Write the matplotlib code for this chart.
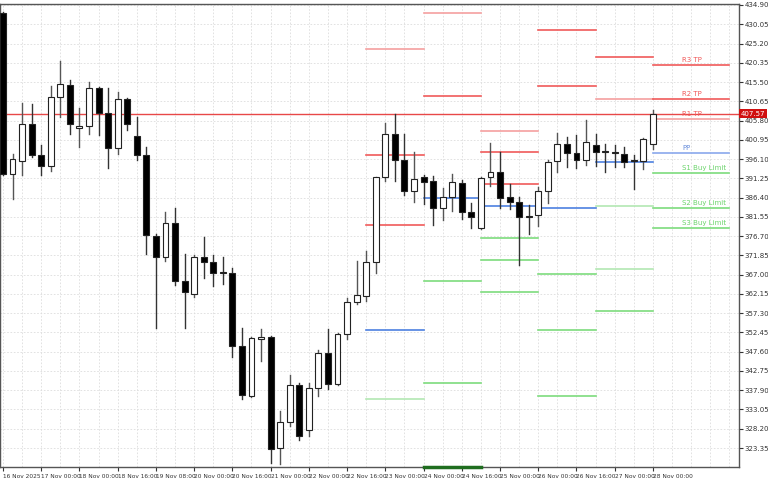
import matplotlib
matplotlib.use("Agg")
import matplotlib.pyplot as plt
import numpy as np
from matplotlib.patches import Rectangle

opens = [432.89,392.35,395.62,404.94,397.13,394.36,411.74,414.76,403.93,404.43,414.0,407.71,398.89,411.23,401.92,397.13,376.74,371.45,380.01,365.40,362.13,371.45,370.19,367.5,367.42,349.04,336.45,350.80,351.30,323.35,329.90,339.22,327.88,338.46,347.27,339.47,352.06,360.12,361.63,370.19,391.59,402.42,395.87,388.07,391.59,390.58,383.79,386.56,390.08,382.78,378.75,391.59,392.85,386.56,385.30,381.6,382.02,388.07,395.62,399.90,397.63,395.87,399.65,397.95,397.7,397.38,395.7,395.62,399.90]
highs = [433.2,397.38,410.22,409.97,399.65,414.51,420.80,416.02,408.97,415.51,414.25,414.0,412.99,411.48,406.70,399.15,377.24,382.78,383.79,372.20,371.95,376.48,371.95,371.45,368.68,353.57,351.30,353.32,351.5,332.67,341.74,339.72,339.72,348.03,353.32,352.31,361.12,370.44,372.96,391.7,405.19,407.45,402.42,397.89,392.09,391.84,388.82,392.35,390.84,385.05,391.59,400.15,397.89,389.83,386.56,384.54,389.07,395.87,402.67,401.66,402.17,405.94,402.42,399.90,399.65,399.15,397.13,401.3,408.46]
lows = [392.0,386.05,392.09,396.63,392.09,393.10,406.70,402.42,399.15,402.42,402.17,393.86,397.38,403.43,395.87,372.20,353.57,370.44,364.40,353.57,361.37,366.16,364.15,364.65,346.27,335.69,336.20,345.26,319.58,319.33,328.89,325.37,326.37,336.45,338.21,339.3,350.80,359.61,360.37,367.42,390.58,390.58,387.06,385.30,384.79,379.51,380.76,383.03,381.01,378.75,378.6,389.32,383.79,383.53,369.43,377.24,379.25,385.05,392.85,394.11,393.86,394.61,394.36,392.85,394.11,394.11,388.57,393.61,398.64]
closes = [392.35,396.12,404.94,397.13,394.36,411.74,415.01,404.94,404.43,414.0,407.71,398.89,411.23,404.94,397.13,376.99,371.45,380.01,365.40,362.63,371.45,370.19,367.42,367.42,349.04,336.70,351.05,351.30,323.10,329.90,339.22,326.37,338.46,347.27,339.47,352.06,360.12,361.88,370.19,391.59,402.42,395.87,388.07,391.09,390.33,383.79,386.56,390.33,382.78,381.52,391.34,392.85,386.30,385.30,381.52,381.4,388.07,395.37,399.90,397.63,395.87,400.40,397.89,397.8,397.55,395.37,395.55,401.16,407.57]

x_labels = ["16 Nov 2025","17 Nov 00:00","18 Nov 00:00","18 Nov 16:00","19 Nov 08:00","20 Nov 00:00","20 Nov 16:00","21 Nov 00:00","22 Nov 00:00","22 Nov 16:00","23 Nov 00:00","24 Nov 00:00","24 Nov 16:00","25 Nov 00:00","26 Nov 00:00","26 Nov 16:00","27 Nov 00:00","28 Nov 00:00"]

seg_starts = [38, 44, 50, 56, 62, 68]
seg_levels = [
    [423.82, 397.13, 379.51, 353.07, 335.69],
    [432.89, 411.99, 386.30, 365.40, 339.72],
    [403.17, 397.89, 389.83, 384.29, 376.23, 370.69, 362.63],
    [428.61, 414.51, 383.79, 367.17, 353.07, 336.45],
    [421.81, 411.23, 395.37, 384.29, 368.42, 357.85],
    [419.79, 411.23, 406.20, 397.63, 392.60, 383.79, 378.75],
]
seg_kinds = [
    ["lr", "r", "r", "b", "lg"],
    ["lr", "r", "b", "g", "g"],
    ["lr", "r", "r", "b", "g", "g", "g"],
    ["r", "r", "b", "g", "g", "g"],
    ["r", "lr", "b", "lg", "lg", "g"],
    ["r", "r", "lr", "lb", "g", "g", "g"],
]
last_labels = ["R3 TP", "R2 TP", "R1 TP", "PP", "S1 Buy Limit", "S2 Buy Limit", "S3 Buy Limit"]
current_price = 407.57

colors = {"r": "#f05a5a", "lr": "#f5a0a0", "b": "#4d80e0", "lb": "#8aa8ec", "g": "#7ddc7d", "lg": "#b3e8b3"}
label_colors = ["#f05a5a", "#f05a5a", "#f05a5a", "#6a8fdc", "#6cd46c", "#6cd46c", "#6cd46c"]

fig = plt.figure(figsize=(7.68, 4.8), dpi=100)
ax = fig.add_axes([0.0, 13/480, 739/768, 463/480])
ymin, ymax = 318.57, 435.15
ax.set_xlim(-0.31, 77.0)
ax.set_ylim(ymin, ymax)

yt = [434.90 - 4.85*i for i in range(24)]
ax.set_yticks(yt)
ax.set_yticklabels([f"{v:.2f}" for v in yt])
ax.yaxis.tick_right()
ax.tick_params(axis='y', labelsize=5, length=3, pad=1, colors='#333333')
ax.set_xticks(range(0, 69, 4))
ax.set_xticklabels(x_labels, ha='left')
ax.tick_params(axis='x', labelsize=4.2, length=3, pad=2, colors='#333333')
ax.set_xticks(np.arange(0, 77, 2), minor=True)
ax.tick_params(axis='x', which='minor', length=0)
ax.grid(True, which='both', axis='x', color='#dddddd', linestyle=(0, (2, 2)), linewidth=0.6)
ax.grid(True, axis='y', color='#dddddd', linestyle=(0, (2, 2)), linewidth=0.6)
ax.set_axisbelow(True)
for s in ax.spines.values():
    s.set_color('#555555')
    s.set_linewidth(1)

for st, levels, kinds in zip(seg_starts, seg_levels, seg_kinds):
    end = st + (8 if st == 68 else 6)
    for lv, k in zip(levels, kinds):
        ax.plot([st, end], [lv, lv], color=colors[k], lw=1.2, zorder=2)
for lv, lab, c in zip(seg_levels[-1], last_labels, label_colors):
    ax.text(71.05, lv + 0.6, lab, color=c, fontsize=5, va='bottom', ha='left', zorder=5)

ax.axhline(current_price, color='#e84848', lw=1, zorder=2)

w = 0.62
for i, (o, h, l, c) in enumerate(zip(opens, highs, lows, closes)):
    bull = c >= o
    ax.plot([i, i], [l, h], color='#555555' if bull else '#333333', lw=1, zorder=3)
    lo, hi = min(o, c), max(o, c)
    ht = max(hi - lo, 0.25)
    ax.add_patch(Rectangle((i - w/2, lo), w, ht, facecolor='white' if bull else 'black',
                           edgecolor='#222222', lw=0.8, zorder=4))

ax.plot([44, 50], [ymin, ymin], color='#1f6e1f', lw=2.5, clip_on=False, zorder=6)

ax.text(1.002, (current_price - ymin)/(ymax - ymin), f"{current_price:.2f}", transform=ax.transAxes,
        fontsize=5, color='white', va='center', ha='left',
        bbox=dict(boxstyle='square,pad=0.25', facecolor='#d01010', edgecolor='none'), zorder=10, clip_on=False)

fig.savefig("out.png", dpi=100)
